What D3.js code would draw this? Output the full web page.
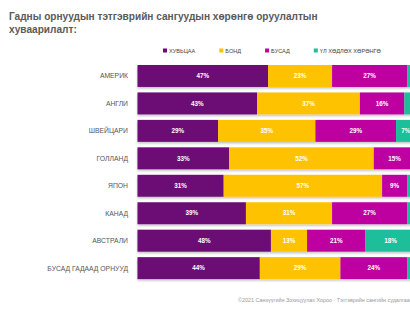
<!DOCTYPE html>
<html>
<head>
<meta charset="utf-8">
<script src="https://cdn.jsdelivr.net/npm/d3@7"></script>
<style>
  html, body { margin: 0; padding: 0; background: #fff; overflow: hidden; }
  svg { display: block; font-family: "Liberation Sans", Arial, sans-serif; }
</style>
</head>
<body>
<div id="mainDiv"></div>
<script>
'use strict';

// data
var countries = ['АМЕРИК', 'АНГЛИ', 'ШВЕЙЦАРИ', 'ГОЛЛАНД', 'ЯПОН', 'КАНАД', 'АВСТРАЛИ', 'БУСАД ГАДААД ОРНУУД'];
var seriesNames = ['ХУВЬЦАА', 'БОНД', 'БУСАД', 'ҮЛ ХӨДЛӨХ ХӨРӨНГӨ'];
var stocks  = [47, 43, 29, 33, 31, 39, 48, 44];
var bonds   = [23, 37, 35, 52, 57, 31, 13, 29];
var others  = [27, 16, 29, 15,  9, 27, 21, 24];
var estate  = [ 3,  4,  7,  0,  3,  3, 18,  3];
var colors  = ['#6c0a76', '#ffc200', '#bf02a1', '#1dbf9a'];

var titleLines = ['Гадны орнуудын тэтгэврийн сангуудын хөрөнгө оруулалтын', 'хуваарилалт:'];
var footer = '©2021 Санхүүгийн Зохицуулах Хороо · Тэтгэврийн сангийн судалгаа';

var myApp = {};

myApp.run = function() {
    var W = 410, H = 309;
    var svg = d3.select('#mainDiv').append('svg')
        .attr('width', W)
        .attr('height', H);

    var defs = svg.append('defs');
    var f = defs.append('filter').attr('id', 'shadow')
        .attr('x', '-5%').attr('y', '-20%').attr('width', '110%').attr('height', '150%');
    f.append('feDropShadow')
        .attr('dx', 0).attr('dy', 1.5).attr('stdDeviation', 1.2)
        .attr('flood-color', '#000').attr('flood-opacity', 0.25);

    // title
    svg.append('g').selectAll('text')
        .data(titleLines)
        .enter().append('text')
        .attr('x', 9)
        .attr('y', function(d, i) { return 20 + i * 13; })
        .attr('font-size', 10.1)
        .attr('font-weight', 'bold')
        .attr('fill', '#5a5a5a')
        .text(function(d) { return d; });

    // table of rows built from the arrays
    var rows = countries.map(function(c, i) {
        return { country: c, vals: [stocks[i], bonds[i], others[i], estate[i]] };
    });

    var x = d3.scaleLinear().domain([0, 100]).range([137.5, 415.5]);
    var y = d3.scaleBand().domain(countries).range([62.25, 281.85])
        .paddingInner(0.2).paddingOuter(0.1);

    // legend
    var leg = svg.append('g').attr('transform', 'translate(163,50.5)');
    var lx = 0;
    seriesNames.forEach(function(name, i) {
        var g = leg.append('g').attr('transform', 'translate(' + lx + ',0)');
        g.append('rect').attr('x', 0).attr('y', -2).attr('width', 4).attr('height', 4)
            .attr('fill', colors[i]);
        var t = g.append('text').attr('x', 6).attr('y', 2)
            .attr('font-size', 5.6).attr('fill', '#444').text(name);
        lx += 6 + t.node().getComputedTextLength() + 24;
    });

    // category labels
    svg.append('g').selectAll('text')
        .data(countries)
        .enter().append('text')
        .attr('x', 128)
        .attr('y', function(d) { return y(d) + y.bandwidth() / 2 + 2.4; })
        .attr('text-anchor', 'end')
        .attr('font-size', 6.8)
        .attr('fill', '#555')
        .text(function(d) { return d; });

    // bars
    var rowG = svg.append('g').selectAll('g.row')
        .data(rows)
        .enter().append('g')
        .attr('class', 'row');

    rowG.each(function(r) {
        var g = d3.select(this);
        var acc = 0;
        var segs = r.vals.map(function(v, i) {
            var s = { v: v, start: acc, i: i };
            acc += v;
            return s;
        }).filter(function(s) { return s.v > 0; });

        g.append('g').attr('filter', 'url(#shadow)')
            .selectAll('rect')
            .data(segs)
            .enter().append('rect')
            .attr('x', function(s) { return x(s.start); })
            .attr('y', y(r.country))
            .attr('width', function(s) { return x(s.start + s.v) - x(s.start); })
            .attr('height', y.bandwidth())
            .attr('fill', function(s) { return colors[s.i]; });

        // labels whose centre falls past the window edge are not seen in the picture
        g.selectAll('text')
            .data(segs.filter(function(s) { return x(s.start + s.v / 2) < W - 3; }))
            .enter().append('text')
            .attr('x', function(s) { return x(s.start + s.v / 2); })
            .attr('y', y(r.country) + y.bandwidth() / 2 + 2.2)
            .attr('text-anchor', 'middle')
            .attr('font-size', 6.3)
            .attr('font-weight', 'bold')
            .attr('fill', '#fff')
            .text(function(s) { return s.v + '%'; });
    });

    // footer
    svg.append('text')
        .attr('x', 238)
        .attr('y', 302)
        .attr('font-size', 5.4)
        .attr('fill', '#999')
        .text(footer);
};

window.onload = function() {
    myApp.run();
};
</script>
</body>
</html>
